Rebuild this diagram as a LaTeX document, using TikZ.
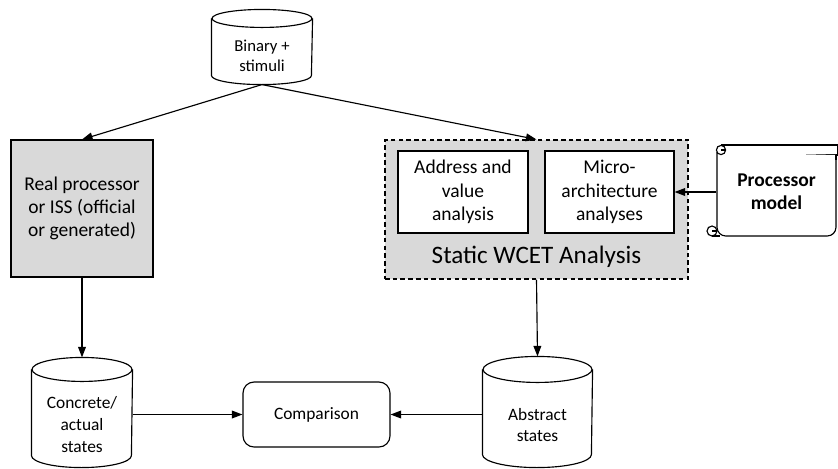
\documentclass[tikz,border=0pt]{standalone}
\usepackage{fontspec}
\setmainfont{Carlito}
\usetikzlibrary{arrows.meta}

\definecolor{boxgray}{HTML}{D9D9D9}

% cylinder round a node: name, half width, ellipse y radius
\newcommand\drum[3]{%
  \draw ([yshift=#3]#1.north west) -- ([yshift=#3]#1.south west)
    arc[start angle=180, end angle=360, x radius=#2, y radius=#3]
    -- ([yshift=#3]#1.north east);
  \draw ([yshift=#3]#1.north) ellipse[x radius=#2, y radius=#3];
}

\begin{document}
\begin{tikzpicture}[x=0.02cm, y=-0.02cm, line width=0.65pt,
    >={Triangle[length=6pt,width=4.4pt]},
    big/.style={font=\fontsize{11.1}{13.3}\selectfont, align=center},
    mid/.style={font=\fontsize{9.9}{12.3}\selectfont, align=center},
    box/.style={draw, big, inner sep=0pt}]
    \useasboundingbox (0, 0) rectangle (838, 468);

    % sources and stores
    \node [mid, font=\fontsize{9.5}{11.4}\selectfont, minimum width=2cm, minimum height=1.12cm] (bin) at (262, 56) {Binary +\\stimuli};
    \drum{bin}{1cm}{0.18cm}
    \node [mid, minimum width=2cm, minimum height=1.7cm] (conc) at (82, 424.5) {Concrete/\\actual\\states};
    \drum{conc}{1cm}{0.24cm}
    \node [mid, minimum width=2.18cm, minimum height=1.68cm] (abs) at (537.5, 425) {Abstract\\states};
    \drum{abs}{1.09cm}{0.26cm}

    % processing
    \node [box, fill=boxgray, minimum width=2.84cm, minimum height=2.74cm] (real) at (82, 208.5)
	{Real processor\\or ISS (official\\or generated)};
    \node [draw, fill=boxgray, dash pattern=on 2.6pt off 1.8pt, minimum width=6.06cm, minimum height=2.78cm] (wcet) at (536.5, 209.5) {};
    \node [box, fill=white, minimum width=2.6cm, minimum height=1.64cm] (addr) at (463, 192) {Address and\\value\\analysis};
    \node [box, fill=white, minimum width=2.58cm, minimum height=1.64cm] (micro) at (609.5, 192) {Micro-\\architecture\\analyses};
    \node [font=\fontsize{14.3}{16}\selectfont] (wcettitle) at (536.5, 257) {Static WCET Analysis};
    \node [draw, rounded corners=0.22cm, mid, minimum width=2.94cm, minimum height=1.3cm] (cmp) at (316.5, 414.5) {Comparison};

    % scroll
    \draw [fill=white] (721, 145) -- (838, 145) -- (838, 155) -- (721, 155);
    \draw [fill=white, rounded corners=5] (717, 152) -- (717, 236) -- (836, 236) -- (836, 155);
    \draw (836, 155) -- (836, 160);
    \draw [fill=white] (721, 150) circle (4.6);
    \draw (721, 150) -- (725.6, 150);
    \draw [fill=white] (712, 231) circle (5);
    \draw (712, 231) -- (717, 231);
    \draw (712, 236) -- (720, 236);
    \node [big, font=\bfseries\fontsize{11.1}{13.3}\selectfont, minimum width=2.38cm, minimum height=1.6cm] (model) at (776.5, 192) {Processor\\model};

    % flows
    \draw [->] (bin.south) -- (real.north);
    \draw [->] (bin.south) -- (wcet.north);
    \draw [->] (real.south) -- ([yshift=0.48cm]conc.north);
    \draw [->] (wcet.south) -- ([yshift=0.52cm]abs.north);
    \draw [->] (model.west) -- (micro.east);
    \draw [->] (cmp.west -| conc.east) -- (cmp.west);
    \draw [->] (cmp.east -| abs.west) -- (cmp.east);
\end{tikzpicture}
\end{document}
